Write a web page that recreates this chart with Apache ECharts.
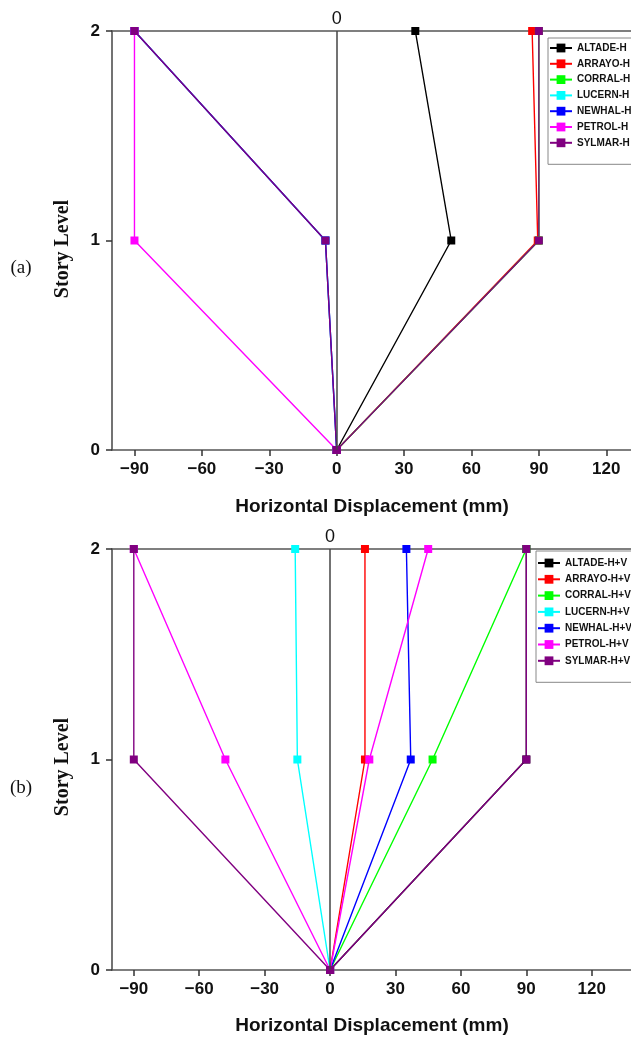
<!DOCTYPE html>
<html>
<head>
<meta charset="utf-8">
<script src="https://cdn.jsdelivr.net/npm/echarts@6/dist/echarts.min.js"></script>
<style>
  html, body { margin: 0; padding: 0; background: #fff; }
  #main { width: 631px; height: 1044px; }
</style>
</head>
<body>
<div id="main"></div>
<script>
// story levels
const levels = [0, 1, 2];
const xTicks = [-90, -60, -30, 0, 30, 60, 90, 120];

// (a) horizontal only, displacement (mm) at level 0,1,2
const altadeH = [0, 51, 35];
const arrayoH = [0, 89.5, 87];
const corralH = [0, 90, 90];
const lucernH = [0, -5, -90];
const newhalH = [0, -5, -90];
const petrolH = [0, -90, -90];
const sylmarH = [0, 90, 90];
const sylmarH2 = [0, -5, -90];

// (b) horizontal + vertical
const altadeHV = [0, 90, 90];
const arrayoHV = [0, 16, 16];
const corralHV = [0, 47, 90];
const lucernHV = [0, -15, -16];
const newhalHV = [0, 37, 35];
const petrolHV = [0, -48, -90];
const petrolHV2 = [0, 18, 45];
const sylmarHV = [0, -90, -90];
const sylmarHV2 = [0, 90, 90];

const names = ['ALTADE', 'ARRAYO', 'CORRAL', 'LUCERN', 'NEWHAL', 'PETROL', 'SYLMAR'];
const lineColors = ['#000000', '#ff0000', '#00ff00', '#00ffff', '#0000ff', '#ff00ff', '#800080'];

const myChart = echarts.init(document.getElementById('main'));

function toPoints(vals) {
  return vals.map((v, i) => [v, levels[i]]);
}

// 折线
function makeSeries(name, colorIdx, vals, gi) {
  return {
    type: 'line',
    name: name,
    xAxisIndex: gi * 2,
    yAxisIndex: gi,
    data: toPoints(vals),
    symbol: 'rect',
    symbolSize: 8,
    color: lineColors[colorIdx],
    lineStyle: { width: 1.4, color: lineColors[colorIdx] },
    itemStyle: { color: lineColors[colorIdx] }
  };
}

// 0 位置的竖线
function zeroLine(gi) {
  return {
    type: 'line',
    xAxisIndex: gi * 2,
    yAxisIndex: gi,
    data: [],
    silent: true,
    markLine: {
      silent: true,
      symbol: 'none',
      label: { show: false },
      lineStyle: { type: 'solid', color: '#444', width: 1.5 },
      data: [{ xAxis: 0 }]
    }
  };
}

const fmt = v => String(v).replace('-', '\u2212');

function bottomAxis(gi, max) {
  return {
    type: 'value',
    gridIndex: gi,
    position: 'bottom',
    min: -100,
    max: max,
    axisLine: { onZero: false, lineStyle: { color: '#555', width: 1.5 } },
    axisTick: { customValues: xTicks, length: 6, lineStyle: { color: '#333', width: 1.5 } },
    axisLabel: {
      customValues: xTicks, formatter: fmt, margin: 11,
      fontFamily: 'Liberation Sans', fontWeight: 'bold', fontSize: 17, color: '#111'
    },
    splitLine: { show: false }
  };
}

function topAxis(gi, max) {
  return {
    type: 'value',
    gridIndex: gi,
    position: 'top',
    min: -100,
    max: max,
    axisLine: { onZero: false, lineStyle: { color: '#555', width: 1.5 } },
    axisTick: { show: false },
    axisLabel: {
      customValues: [0], margin: 3,
      fontFamily: 'Liberation Sans', fontSize: 18, color: '#111'
    },
    splitLine: { show: false }
  };
}

function yAxis(gi) {
  return {
    type: 'value',
    gridIndex: gi,
    min: 0,
    max: 2,
    interval: 1,
    axisLine: { show: true, onZero: false, lineStyle: { color: '#444', width: 1.5 } },
    axisTick: { show: true, length: 6, lineStyle: { color: '#333', width: 1.5 } },
    axisLabel: {
      margin: 12,
      fontFamily: 'Liberation Sans', fontWeight: 'bold', fontSize: 17, color: '#111'
    },
    splitLine: { show: false }
  };
}

function legend(suffix, left, top, gap, padTop) {
  return {
    orient: 'vertical',
    left: left,
    top: top,
    data: names.map(n => n + suffix),
    itemWidth: 22,
    itemHeight: 11,
    itemGap: gap,
    padding: [padTop, 30, 16, 1],
    borderColor: '#888',
    borderWidth: 1,
    textStyle: {
      fontFamily: 'Liberation Sans', fontWeight: 'bold', fontSize: 10,
      lineHeight: 11, color: '#111'
    }
  };
}

const seriesA = [
  makeSeries('ALTADE-H', 0, altadeH, 0),
  makeSeries('ARRAYO-H', 1, arrayoH, 0),
  makeSeries('CORRAL-H', 2, corralH, 0),
  makeSeries('LUCERN-H', 3, lucernH, 0),
  makeSeries('NEWHAL-H', 4, newhalH, 0),
  makeSeries('PETROL-H', 5, petrolH, 0),
  makeSeries('SYLMAR-H', 6, sylmarH, 0),
  makeSeries('SYLMAR-H', 6, sylmarH2, 0)
];
const seriesB = [
  makeSeries('ALTADE-H+V', 0, altadeHV, 1),
  makeSeries('ARRAYO-H+V', 1, arrayoHV, 1),
  makeSeries('CORRAL-H+V', 2, corralHV, 1),
  makeSeries('LUCERN-H+V', 3, lucernHV, 1),
  makeSeries('NEWHAL-H+V', 4, newhalHV, 1),
  makeSeries('PETROL-H+V', 5, petrolHV, 1),
  makeSeries('PETROL-H+V', 5, petrolHV2, 1),
  makeSeries('SYLMAR-H+V', 6, sylmarHV, 1),
  makeSeries('SYLMAR-H+V', 6, sylmarHV2, 1)
];

function axisTitles(tag, yPanel, yStory, yX) {
  return [
    {
      type: 'text', x: 21, y: yPanel,
      style: {
        text: '(' + tag + ')', font: '19px "Liberation Serif"', fill: '#111',
        align: 'center', verticalAlign: 'middle'
      }
    },
    {
      type: 'text', x: 63, y: yStory, rotation: Math.PI / 2,
      style: {
        text: 'Story Level', font: 'bold 20px "Liberation Serif"', fill: '#111',
        align: 'center', verticalAlign: 'middle'
      }
    },
    {
      type: 'text', x: 372, y: yX,
      style: {
        text: 'Horizontal Displacement (mm)', font: 'bold 19px "Liberation Sans"', fill: '#111',
        align: 'center', verticalAlign: 'middle'
      }
    }
  ];
}

myChart.setOption({
  animation: false,
  grid: [
    { left: 112, top: 31, right: 0, bottom: 594 },
    { left: 112, top: 549, right: 0, bottom: 74 }
  ],
  xAxis: [bottomAxis(0, 131), topAxis(0, 131), bottomAxis(1, 138), topAxis(1, 138)],
  yAxis: [yAxis(0), yAxis(1)],
  legend: [
    legend('-H', 548, 38, 4.8, 4.5),
    legend('-H+V', 536, 551, 5.3, 6.5)
  ],
  graphic: [
    ...axisTitles('a', 268, 249, 507),
    ...axisTitles('b', 788, 767, 1026)
  ],
  series: [zeroLine(0), zeroLine(1), ...seriesA, ...seriesB]
});
</script>
</body>
</html>
